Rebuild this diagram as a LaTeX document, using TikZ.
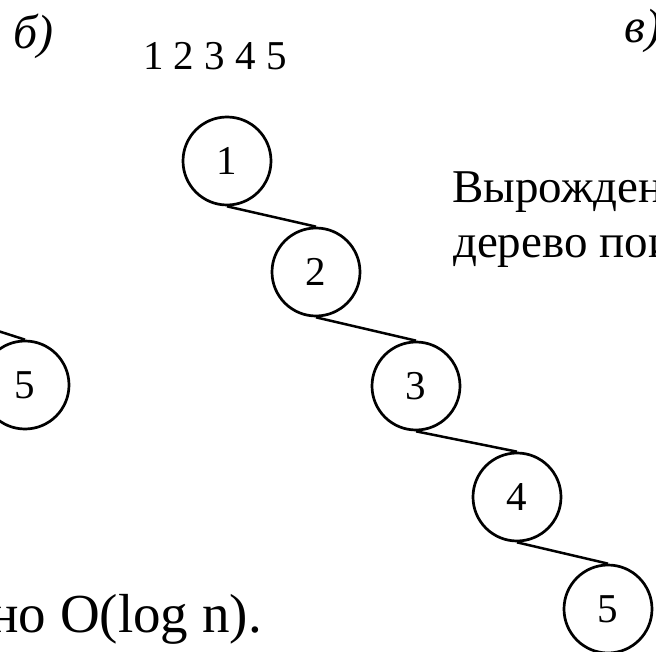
\documentclass[tikz,border=0pt]{standalone}
\usepackage{fontspec}
\setmainfont{Liberation Serif}

\begin{document}
\begin{tikzpicture}[x=1pt, y=-1pt,
    vertex/.style={draw, circle, line width=2.7pt, minimum size=88pt,
                   inner sep=0pt, font=\fontsize{41}{44}\selectfont},
    edge/.style={line width=2.5pt},
    caption/.style={inner sep=0pt, anchor=base west}]
  \useasboundingbox (0,0) rectangle (656,652);

  \node[caption, font=\fontsize{48}{50}\selectfont\itshape] (lblb) at (13,49) {б)};
  \node[caption, font=\fontsize{48}{50}\selectfont\itshape] (lblv) at (624,43) {в)};
  \node[caption, font=\fontsize{41}{44}\selectfont] (keys) at (143,70) {1 2 3 4 5};

  % degenerate tree: one long right branch
  \foreach \i/\xpos/\ypos in {1/227/161, 2/316/272, 3/416/386, 4/517/497, 5/608/609}
    \node[vertex] (v\i) at (\xpos,\ypos) {\i};
  \foreach \i/\j in {1/2, 2/3, 3/4, 4/5}
    \draw[edge] (v\i.south) -- (v\j.north);

  % leaf of the left tree, cut by the frame
  \node[vertex] (w5) at (25,385) {5};
  \coordinate (wpar) at (-30,322);
  \draw[edge] (wpar) -- (w5.north);

  \node[caption, font=\fontsize{47}{54}\selectfont] (note1) at (452,203) {Вырожден};
  \node[caption, font=\fontsize{47}{54}\selectfont] (note2) at (453,258) {дерево пои};

  \node[caption, anchor=base east, font=\fontsize{55}{60}\selectfont] (cost) at (262,632) {но O(log n).};
\end{tikzpicture}
\end{document}
